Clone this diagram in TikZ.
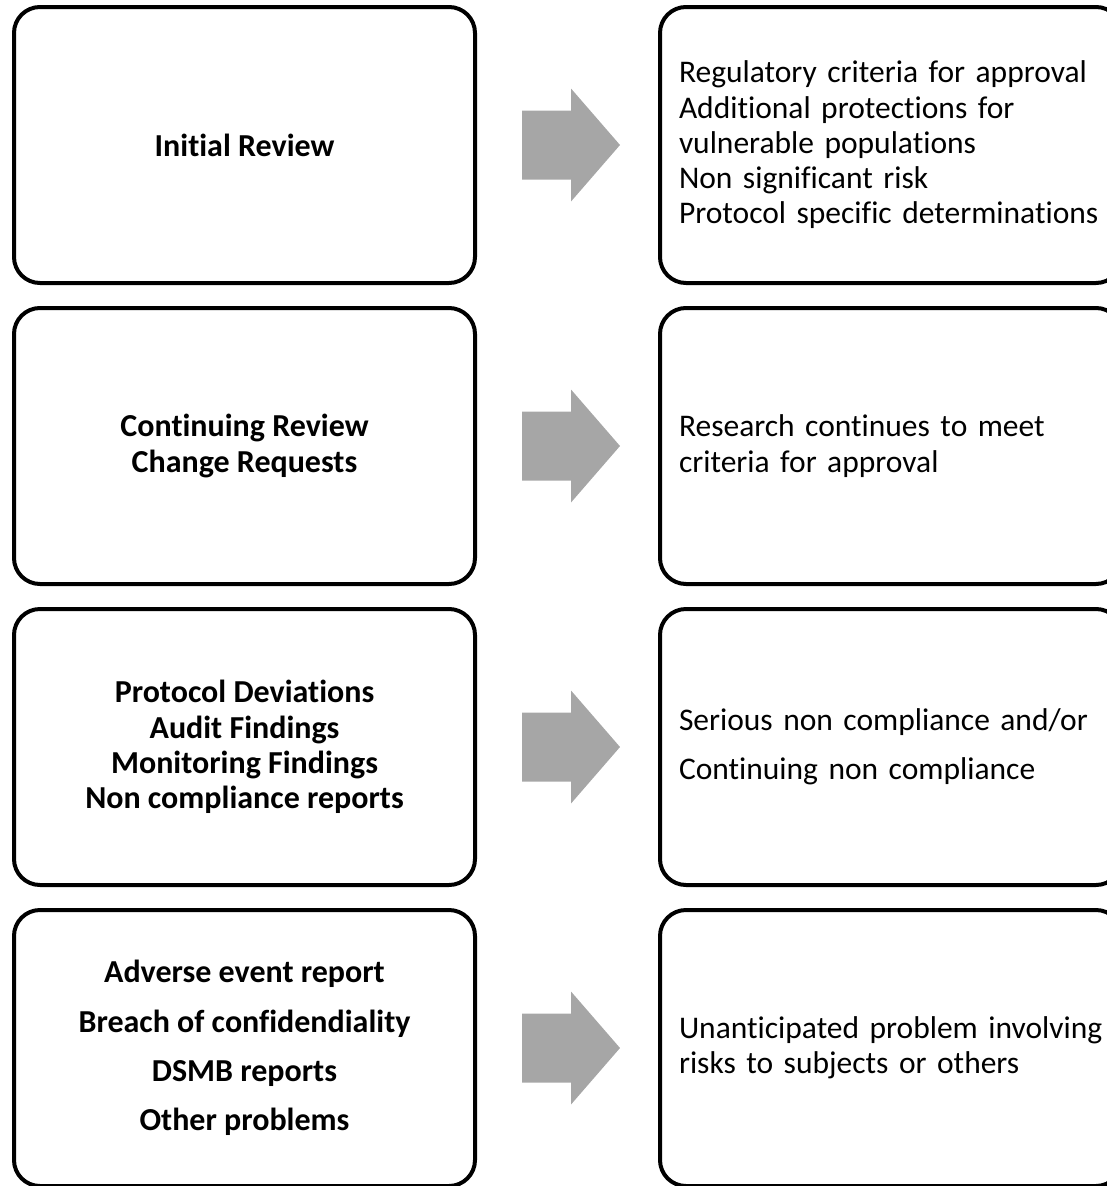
\documentclass[tikz,border=0pt]{standalone}
\usepackage{fontspec}
\setmainfont{Carlito}[Ligatures=CommonOff]
\usetikzlibrary{positioning}
\definecolor{arrowgray}{HTML}{A6A6A6}

\begin{document}
\begin{tikzpicture}[x=1pt,y=-1pt,
    box/.style={draw,line width=4pt,rounded corners=26pt,minimum width=461pt,
      minimum height=276pt,inner sep=0pt,outer sep=0pt,font=\fontsize{31.5}{35.3}\selectfont},
    causebox/.style={box,align=center,font=\fontsize{32}{35.3}\selectfont\bfseries},
    outcomebox/.style={box,align=left,text width=424pt,inner xsep=19pt},
    node distance=25pt and 185pt]
    \useasboundingbox (0,0) rectangle (1107,1186);
    \node[causebox] (cause1) at (244.5,145) {Initial Review};
    \node[causebox,below=of cause1] (cause2) {Continuing Review\\Change Requests};
    \node[causebox,below=of cause2] (cause3) {Protocol Deviations\\Audit Findings\\Monitoring Findings\\Non compliance reports};
    \node[causebox,below=of cause3] (cause4) {Adverse event report\\[14pt]Breach of confidendiality\\[14pt]DSMB reports\\[14pt]Other problems};
    \node[outcomebox,right=of cause1] (outcome1) {Regulatory criteria for approval\\Additional protections for\\vulnerable populations\\Non significant risk\\Protocol specific determinations};
    \node[outcomebox,right=of cause2] (outcome2) {Research continues to meet\\criteria for approval};
    \node[outcomebox,right=of cause3] (outcome3) {Serious non compliance and/or\\[14pt]Continuing non compliance};
    \node[outcomebox,right=of cause4] (outcome4) {Unanticipated problem involving\\risks to subjects or others};
    \foreach \i in {1,...,4} {
      \begin{scope}[shift={(cause\i.east)}]
        \fill[arrowgray] (47,-34.5) -- (96,-34.5) -- (96,-56.5) -- (145,0) -- (96,56.5) -- (96,34.5) -- (47,34.5) -- cycle;
      \end{scope}
    }
  \end{tikzpicture}
\end{document}
